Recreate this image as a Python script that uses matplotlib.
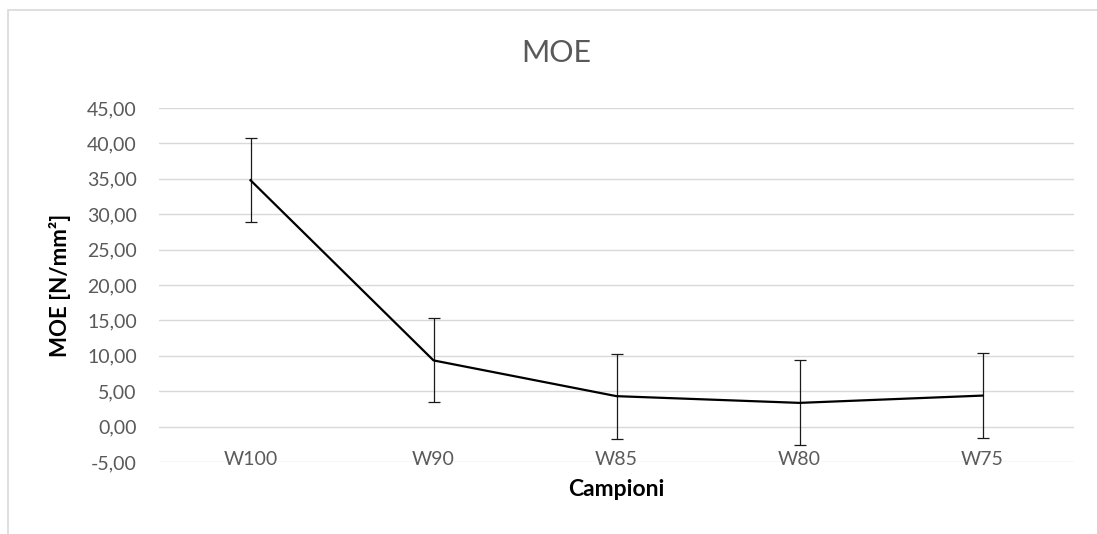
import matplotlib
matplotlib.use('Agg')
import matplotlib.pyplot as plt
from matplotlib.patches import Rectangle
from matplotlib.ticker import FuncFormatter

# MOE per campione (media e deviazione standard)
campioni = ['W100', 'W90', 'W85', 'W80', 'W75']
moe = [34.8, 9.35, 4.30, 3.35, 4.38]
dev_std = [5.95, 5.94, 5.99, 5.99, 5.98]
y_ticks = [-5, 0, 5, 10, 15, 20, 25, 30, 35, 40, 45]

plt.rcParams['font.family'] = ['Lato', 'DejaVu Sans']

fig = plt.figure(figsize=(10.97, 5.34), dpi=100)
ax = fig.add_axes([159 / 1097, 72 / 534, 915 / 1097, 354 / 534])

x = list(range(len(campioni)))
ax.errorbar(x, moe, yerr=dev_std, color='black', linewidth=1.6,
            ecolor='#1a1a1a', elinewidth=0.9, capsize=4, capthick=0.9, zorder=3)

ax.set_xlim(-0.5, len(campioni) - 0.5)
ax.set_ylim(-5, 45)
ax.set_yticks(y_ticks)
ax.yaxis.set_major_formatter(FuncFormatter(lambda v, p: f'{v:.2f}'.replace('.', ',')))
ax.set_xticks(x)
ax.set_xticklabels(campioni)

ax.grid(axis='y', color='#d9d9d9', linewidth=1.0)
ax.set_axisbelow(True)
for s in ax.spines.values():
    s.set_visible(False)
ax.tick_params(axis='y', length=0, pad=16, labelsize=14, labelcolor='#595959')
ax.tick_params(axis='x', length=0, pad=-8, labelsize=14, labelcolor='#595959')

ax.set_ylabel('MOE [N/mm²]', fontsize=16, fontweight='bold', va='center')
ax.yaxis.set_label_coords(-0.108, 0.5)
ax.set_xlabel('Campioni', fontsize=16.5, fontweight='bold', va='center')
ax.xaxis.set_label_coords(0.5, -0.079)

fig.text(556 / 1097, 1 - 53 / 534, 'MOE', fontsize=22, color='#595959',
         ha='center', va='center')

# bordo dell'area del grafico
fig.add_artist(Rectangle((8 / 1097, -0.05), 1.1, 1 - 10 / 534 + 0.05,
                         transform=fig.transFigure, fill=False,
                         edgecolor='#d9d9d9', linewidth=1.2, clip_on=False))

fig.savefig('out.png', dpi=100)
